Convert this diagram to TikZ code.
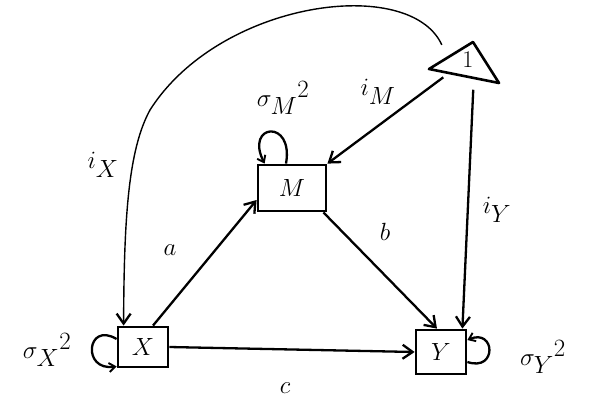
\documentclass[tikz,border=0pt]{standalone}
\usepackage{amsmath}
\usepackage{tikz}
\usetikzlibrary{arrows.meta,calc}
\tikzset{
  var/.style = {rectangle, draw, line width=2.8pt, inner sep=0pt, font=\fontsize{32}{34}\selectfont},
  const/.style = {circle, minimum size=60pt, inner sep=0pt, font=\fontsize{24}{26}\selectfont},
  link/.style = {line width=2.3pt, -{Straight Barb[length=10pt,width=14pt,line width=2.3pt]}},
  selfloop/.style = {line width=2.3pt, -{Straight Barb[length=6pt,width=9pt,line width=1.9pt]}},
  lbl/.style = {inner sep=1pt, font=\fontsize{40}{42}\selectfont},
}

\begin{document}
\begin{tikzpicture}[x=1pt,y=-1pt]
  \useasboundingbox (0,0) rectangle (589,405);

  \node[var, minimum width=50pt, minimum height=40pt] (X) at (143,347) {$X$};
  \node[var, minimum width=68pt, minimum height=46pt] (M) at (292,188) {$M$};
  \node[var, minimum width=50pt, minimum height=44pt] (Y) at (441,352) {$Y$};
  \node[const] (one) at (468,60) {1};
  \draw[line width=2.6pt, line join=round] (429,69) -- (473,42) -- (499,83) -- cycle;

  \draw[link] (X.east) -- (Y.west);
  \draw[link] ($(X.north)+(10,0)$) -- ($(M.west)+(0,12)$);
  \draw[link] ($(M.south east)+(-4,0)$) -- ($(Y.north)+(-4,0)$);
  \draw[link] (one.215) -- (M.north east);
  \draw[link] (one.-80) -- ($(Y.north east)+(-5,0)$);
  \draw[link, line width=1.4pt] (one.150) .. controls (410,-25) and (220,0) .. (150,110)
    .. controls (128,150) and (124,220) .. ($(X.north west)+(7,0)$);

  \draw[selfloop] ($(X.west)+(0,-8)$) .. controls +(-30,-18) and +(-35,5) .. ($(X.south west)+(0,-2)$);
  \draw[selfloop] ($(M.north)+(-6,0)$) .. controls +(8,-45) and +(-20,-40) .. ($(M.north west)+(8,0)$);
  \draw[selfloop] ($(Y.east)+(0,10)$) .. controls +(30,10) and +(28,-12) .. ($(Y.east)+(0,-12)$);

  \node[lbl] (vx) at (47,350) {$\sigma_X{}^2$};
  \node[lbl] (vm) at (283,98) {$\sigma_M{}^2$};
  \node[lbl] (vy) at (543,357) {$\sigma_Y{}^2$};
  \node[lbl] (ix) at (103,165) {$i_X$};
  \node[lbl] (im) at (378,92) {$i_M$};
  \node[lbl] (iy) at (497,210) {$i_Y$};
  \node[lbl] (la) at (170,250) {$a$};
  \node[lbl] (lb) at (385,232) {$b$};
  \node[lbl] (lc) at (285,388) {$c$};
\end{tikzpicture}
\end{document}
